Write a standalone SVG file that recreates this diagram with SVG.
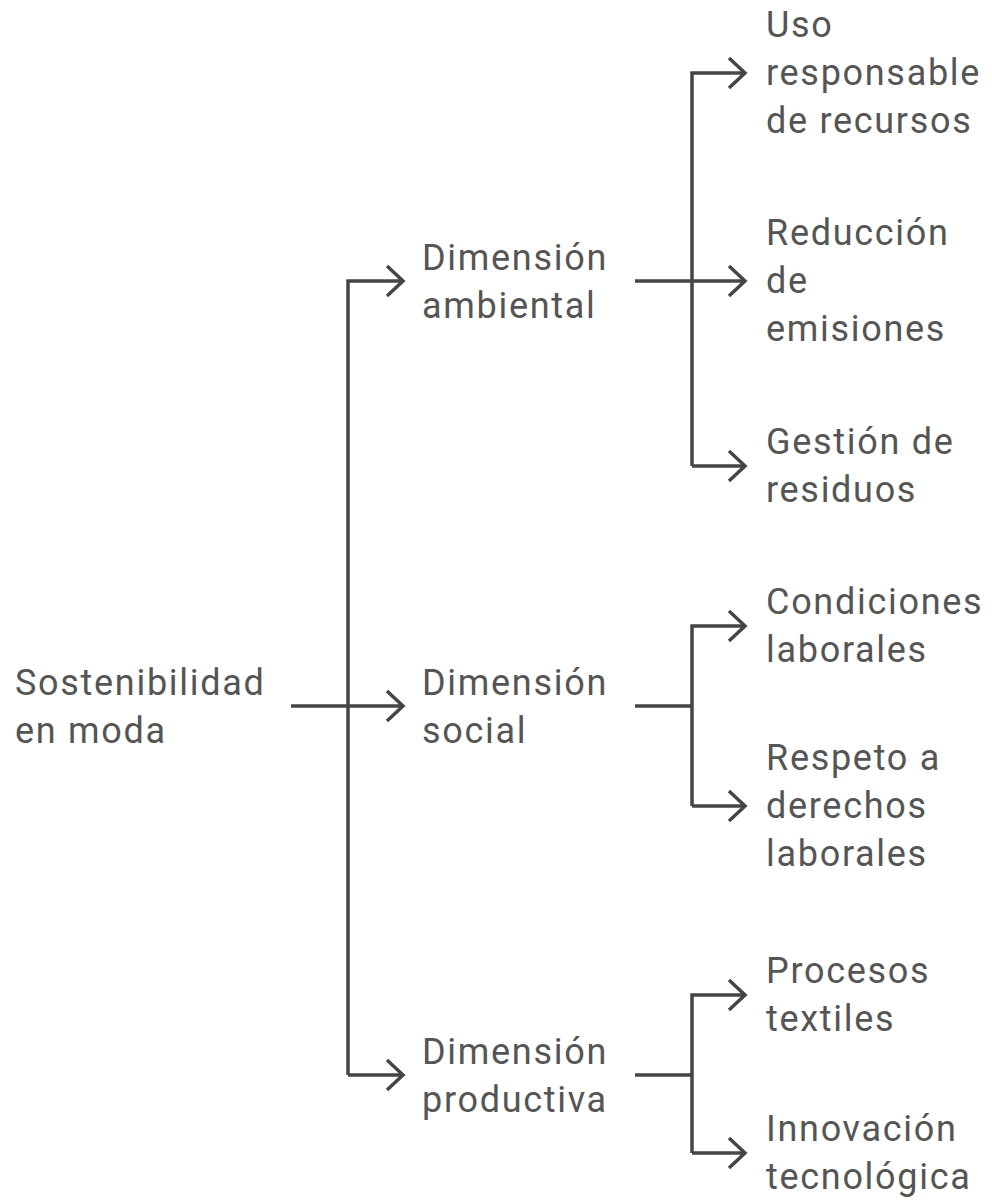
<svg xmlns="http://www.w3.org/2000/svg" width="992" height="1203" viewBox="0 0 992 1203">
<defs>
<style>
.t{font-family:Roboto,"Liberation Sans",sans-serif;font-size:36px;letter-spacing:1.7px;fill:#555555}
.c{fill:none;stroke:#454545;stroke-width:3.5;stroke-linejoin:miter}
</style>
<path id="ah" d="M-16,-15 L0,0 L-16,15" class="c"/>
</defs>
<rect width="992" height="1203" fill="#fff"/>
<g id="connectors">
<path class="c" d="M291,706 H402 M348,1075 V281 H402 M348,1075 H402"/>
<use href="#ah" x="403" y="281"/><use href="#ah" x="403" y="706"/><use href="#ah" x="403" y="1075"/>
<path class="c" d="M635,281 H744 M692,466 V73 H744 M692,466 H744"/>
<use href="#ah" x="745" y="73"/><use href="#ah" x="745" y="281"/><use href="#ah" x="745" y="466"/>
<path class="c" d="M635,706 H692 M692,806 V626 H744 M692,806 H744"/>
<use href="#ah" x="745" y="626"/><use href="#ah" x="745" y="806"/>
<path class="c" d="M635,1075 H692 M692,1153 V995 H744 M692,1153 H744"/>
<use href="#ah" x="745" y="995"/><use href="#ah" x="745" y="1153"/>
</g>
<g id="root"><text class="t" x="15" y="695">Sostenibilidad</text><text class="t" x="15" y="743">en moda</text></g>
<g id="ambiental"><text class="t" x="422" y="270">Dimensión</text><text class="t" x="422" y="318">ambiental</text></g>
<g id="social"><text class="t" x="422" y="695">Dimensión</text><text class="t" x="422" y="743">social</text></g>
<g id="productiva"><text class="t" x="422" y="1064">Dimensión</text><text class="t" x="422" y="1112">productiva</text></g>
<g id="uso"><text class="t" x="766" y="37">Uso</text><text class="t" x="766" y="85">responsable</text><text class="t" x="766" y="133">de recursos</text></g>
<g id="reduccion"><text class="t" x="766" y="245">Reducción</text><text class="t" x="766" y="293">de</text><text class="t" x="766" y="341">emisiones</text></g>
<g id="gestion"><text class="t" x="766" y="454">Gestión de</text><text class="t" x="766" y="502">residuos</text></g>
<g id="condiciones"><text class="t" x="766" y="614">Condiciones</text><text class="t" x="766" y="662">laborales</text></g>
<g id="respeto"><text class="t" x="766" y="770">Respeto a</text><text class="t" x="766" y="818">derechos</text><text class="t" x="766" y="866">laborales</text></g>
<g id="procesos"><text class="t" x="766" y="983">Procesos</text><text class="t" x="766" y="1031">textiles</text></g>
<g id="innovacion"><text class="t" x="766" y="1141">Innovación</text><text class="t" x="766" y="1189">tecnológica</text></g>
</svg>
